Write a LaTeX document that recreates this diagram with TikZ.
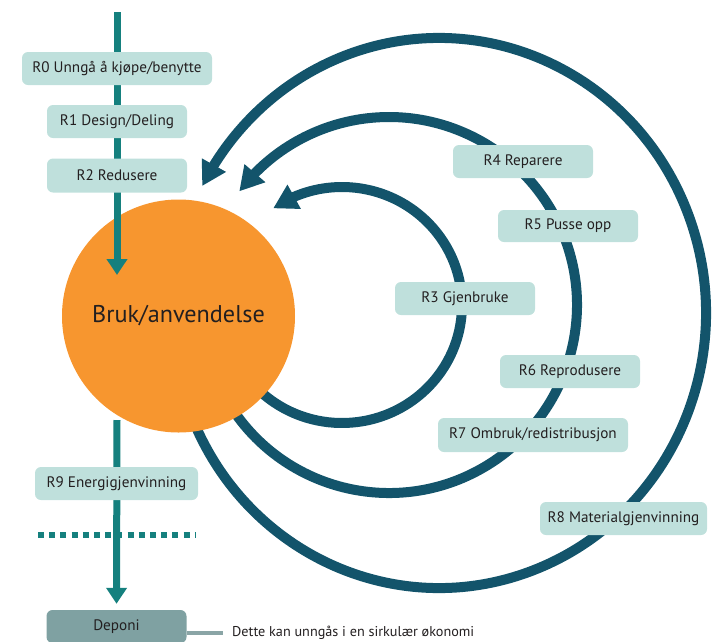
\documentclass[tikz,border=0pt]{standalone}
\usepackage{fontspec}
\setmainfont{PT Sans}
\usetikzlibrary{arrows.meta,calc,bending}
\definecolor{teal1}{HTML}{15807E}
\definecolor{arcblue}{HTML}{13546B}
\definecolor{boxfill}{HTML}{BFE0DC}
\definecolor{depfill}{HTML}{7FA1A2}
\definecolor{orange1}{HTML}{F7962F}
\definecolor{notegray}{HTML}{8AA5A6}
\definecolor{txt}{HTML}{231F20}
\begin{document}
\begin{tikzpicture}[x=1pt,y=-1pt,
  rbox/.style={rectangle, rounded corners=6pt, fill=boxfill, text=txt, inner sep=0pt,
    minimum height=33pt, font=\fontsize{15.2}{17}\selectfont},
  loopline/.style={draw=arcblue, line width=10pt, -{Triangle[length=24pt,width=26pt]}},
  flow/.style={draw=teal1, line width=7pt, -{Triangle[length=16pt,width=20pt]}},
]
\useasboundingbox (0,0) rectangle (716,641);
\clip (0,0) rectangle (716,641);

% loops (drawn first, under everything)
\draw[loopline] (439,313) ++(159:267 and 275) arc[start angle=159, end angle=-152.5, x radius=267, y radius=275];
\draw[loopline] (389,305) ++(148:188) arc[start angle=148, end angle=-142.8, radius=188];
\draw[loopline] (342,305) ++(136:120 and 118) arc[start angle=136, end angle=-125, x radius=120, y radius=118];

% central circle
\node[circle, fill=orange1, minimum size=233pt, inner sep=0pt, text=txt,
      font=\fontsize{24.2}{28}\selectfont] (use) at (178.5,316) {Bruk/anvendelse};

% Deponi
\node[rbox, fill=depfill, minimum width=140pt] (dep) at (116.5,626.5) {Deponi};

% vertical flow
\coordinate (src) at (117,12);
\coordinate (into) at (117,275);
\coordinate (out) at (117,420);
\draw[flow] (src) -- (into);
\draw[flow, shorten >=6pt] (out) -- (dep.north);

% dotted boundary
\coordinate (dl) at (38,535);
\coordinate (dr) at (196,535);
\draw[teal1, line width=6pt, dash pattern=on 6pt off 5.2pt] (dl) -- (dr);

% boxes
\node[rbox, minimum width=190pt] (r0) at (117,68.5) {R0 Unngå å kjøpe/benytte};
\node[rbox, minimum width=140pt] (r1) at (117,121.5) {R1 Design/Deling};
\node[rbox, minimum width=140pt, minimum height=34pt] (r2) at (117,175.5) {R2 Redusere};
\node[rbox, minimum width=140pt] (r4) at (523,161.5) {R4 Reparere};
\node[rbox, minimum width=140pt, minimum height=32pt] (r5) at (568,226) {R5 Pusse opp};
\node[rbox, minimum width=140pt] (r3) at (465,298.5) {R3 Gjenbruke};
\node[rbox, minimum width=140pt] (r6) at (570,371.5) {R6 Reprodusere};
\node[rbox, minimum width=190pt, minimum height=34pt] (r7) at (533,435) {R7 Ombruk/redistribusjon};
\node[rbox, minimum width=167pt] (r8) at (623.5,518.5) {R8 Materialgjenvinning};
\node[rbox, minimum width=163pt] (r9) at (116.5,483.5) {R9 Energigjenvinning};

% note
\node[anchor=west, inner sep=0pt, text=txt, font=\fontsize{14.2}{16}\selectfont] (note) at (232,633)
  {Dette kan unngås i en sirkulær økonomi};
\draw[notegray, line width=4.5pt] (dep.east |- note.west) -- ([xshift=-9pt]note.west);
\end{tikzpicture}
\end{document}
